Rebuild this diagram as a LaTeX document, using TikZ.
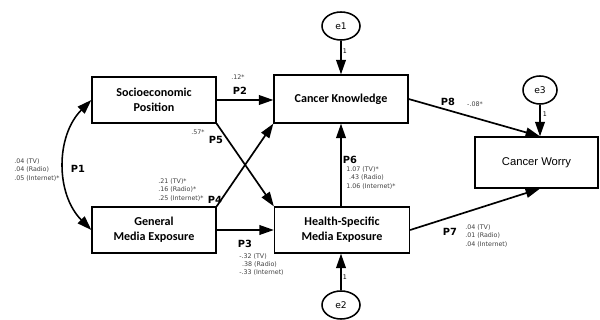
\documentclass[tikz,border=0pt]{standalone}
\usepackage{fontspec}
\setmainfont{DejaVu Sans}
\newfontfamily\boxfont{Carlito}
\newfontfamily\worryfont{Liberation Sans}
\usetikzlibrary{arrows.meta,shapes.geometric}

\begin{document}
\begin{tikzpicture}[x=0.025cm, y=-0.025cm, >={Triangle[length=3.6mm,width=2.4mm]},
  box/.style = {draw, line width=0.9pt, inner sep=0pt, align=center, font=\boxfont\bfseries\fontsize{8.6}{10.5}\selectfont},
  err/.style = {draw, ellipse, line width=1.1pt, minimum width=0.95cm, minimum height=0.7cm, inner sep=0pt, font=\fontsize{6.5}{7}\selectfont},
  link/.style = {->, line width=1.2pt},
  pl/.style = {font=\bfseries\fontsize{7}{8}\selectfont, inner sep=0pt},
  est/.style = {font=\fontsize{4.5}{6}\selectfont, align=left, inner sep=0pt, text=black!75},
  one/.style = {font=\fontsize{4.5}{5}\selectfont, inner sep=0pt}]
\useasboundingbox (0,0) rectangle (600,320);
\node[box, minimum width=3.1cm, minimum height=1.15cm] (ses) at (154,100) {Socioeconomic\\Position};
\node[box, minimum width=3.1cm, minimum height=1.15cm] (gme) at (154,230) {General\\Media Exposure};
\node[box, minimum width=3.35cm, minimum height=1.2cm] (ck) at (341,99) {Cancer Knowledge};
\node[box, minimum width=3.375cm, minimum height=1.15cm] (hsme) at (342,230) {Health-Specific\\Media Exposure};
\node[box, minimum width=3.075cm, minimum height=1.275cm, font=\worryfont\fontsize{8}{9}\selectfont] (cw) at (536.5,162.5) {Cancer Worry};
\node[err] (e1) at (341,26) {e1};
\node[err] (e2) at (341,305) {e2};
\node[err, minimum width=0.85cm] (e3) at (540,90) {e3};
% paths
\draw[<->, line width=1.1pt] (ses.west) to[bend right=45] (gme.west);
\draw[link] (ses.east) -- (ses.east -| ck.west);
\draw[link] (gme.east) -- (gme.east -| hsme.west);
\draw[link] (gme.north east) -- (ck.south west);
\draw[link] (ses.south east) -- (hsme.north west);
\draw[link] (hsme.north -| ck.south) -- (ck.south);
\draw[link] (hsme.east) -- (e3 |- cw.south);
\draw[link] (ck.east) -- (e3 |- cw.north);
\draw[link] (e3.south) -- (e3 |- cw.north);
\draw[link] (e1) -- (ck);
\draw[link] (e2.north) -- (e2.north |- hsme.south);
% labels
\node[pl] (p1) at (78,169) {P1};
\node[est, anchor=west] (p1v) at (14,170) {.04 (TV)\\.04 (Radio)\\.05 (Internet)*};
\node[pl] (p2) at (240,91) {P2};
\node[est] (p2v) at (238,77) {.12*};
\node[pl] (p3) at (245,244) {P3};
\node[est, anchor=west] (p3v) at (239,264.5) {-.32 (TV)\\\hspace*{2pt}.38 (Radio)\\-.33 (Internet)};
\node[pl] (p4) at (215,200) {P4};
\node[est, anchor=west] (p4v) at (158,190) {.21 (TV)*\\.16 (Radio)*\\.25 (Internet)*};
\node[pl] (p5) at (216,140) {P5};
\node[est] (p5v) at (198,132) {.57*};
\node[pl] (p6) at (350,160) {P6};
\node[est, anchor=west] (p6v) at (346,178) {1.07 (TV)*\\\hspace*{2pt}.43 (Radio)\\1.06 (Internet)*};
\node[pl] (p7) at (450,232) {P7};
\node[est, anchor=west] (p7v) at (465,236) {.04 (TV)\\.01 (Radio)\\.04 (Internet)};
\node[pl] (p8) at (448,102) {P8};
\node[est] (p8v) at (475,104) {-.08*};
\node[one] (w1) at (345,51) {1};
\node[one] (w2) at (345,277) {1};
\node[one] (w3) at (545,114) {1};
\end{tikzpicture}
\end{document}
